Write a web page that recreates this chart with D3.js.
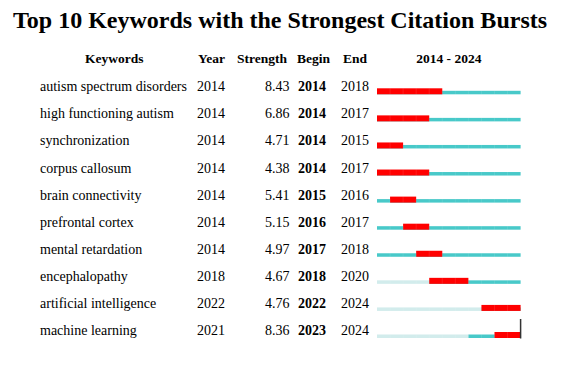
<!DOCTYPE html>
<html><head><meta charset="utf-8">
<script src="https://cdn.jsdelivr.net/npm/d3@7"></script>
<style>body{margin:0;background:#fff}svg{display:block}text{font-family:"Liberation Serif","Times New Roman",serif;fill:#000}</style>
</head><body>
<script>
const keywords = ["autism spectrum disorders","high functioning autism","synchronization","corpus callosum","brain connectivity","prefrontal cortex","mental retardation","encephalopathy","artificial intelligence","machine learning"];
const years = [2014,2014,2014,2014,2014,2014,2014,2018,2022,2021];
const strengths = [8.43,6.86,4.71,4.38,5.41,5.15,4.97,4.67,4.76,8.36];
const begins = [2014,2014,2014,2014,2015,2016,2017,2018,2022,2023];
const ends = [2018,2017,2015,2017,2016,2017,2018,2020,2024,2024];
const headers = ["Keywords","Year","Strength","Begin","End"];
const rangeStart = 2014, rangeEnd = 2024;
const title = "Top 10 Keywords with the Strongest Citation Bursts";

const W=580,H=366;
const svg=d3.select("body").append("svg").attr("width",W).attr("height",H);

svg.append("text").attr("x",13).attr("y",27.5).attr("font-size",24).attr("font-weight","bold").text(title);

const hy=63;
const hx=[85,198,237,297,343];
svg.selectAll("text.h").data(headers).join("text").attr("class","h")
  .attr("x",(d,i)=>hx[i]).attr("y",hy).attr("font-size",13.5).attr("font-weight","bold").text(d=>d);
svg.append("text").attr("x",448.8).attr("y",hy).attr("text-anchor","middle").attr("font-size",13.5).attr("font-weight","bold").text(rangeStart+" - "+rangeEnd);

const yearList=d3.range(rangeStart,rangeEnd+1);
const x=d3.scaleLinear().domain([rangeStart,rangeEnd+1]).range([377,520.6]);
const y=d3.scalePoint().domain(d3.range(keywords.length)).range([91.3,335]);

const rows=svg.selectAll("g.row").data(keywords.map((k,i)=>({k,i,year:years[i],s:strengths[i],b:begins[i],e:ends[i]}))).join("g").attr("class","row");
rows.append("text").attr("x",40).attr("y",d=>y(d.i)).attr("font-size",14).text(d=>d.k);
rows.append("text").attr("x",197).attr("y",d=>y(d.i)).attr("font-size",14).text(d=>d.year);
rows.append("text").attr("x",289.5).attr("y",d=>y(d.i)).attr("text-anchor","end").attr("font-size",14).text(d=>d.s.toFixed(2));
rows.append("text").attr("x",298).attr("y",d=>y(d.i)).attr("font-size",14).attr("font-weight","bold").text(d=>d.b);
rows.append("text").attr("x",341).attr("y",d=>y(d.i)).attr("font-size",14).text(d=>d.e);

rows.each(function(d){
  const g=d3.select(this);
  const base=y(d.i)+3;
  const segs=[];
  if(d.year>rangeStart) segs.push({a:rangeStart,b:d.year-1,c:"#d2ecec",h:3.5});
  segs.push({a:d.year,b:rangeEnd,c:"#48c9c9",h:3.5});
  segs.push({a:d.b,b:d.e,c:"#ff0000",h:6});
  segs.forEach(s=>{
    g.append("rect").attr("x",x(s.a)).attr("y",base-s.h).attr("width",x(s.b+1)-x(s.a)).attr("height",s.h).attr("fill",s.c);
  });
  yearList.slice(1).forEach(yr=>{
    const red=yr>d.b&&yr<=d.e;
    const h=red?6:3.5;
    g.append("line").attr("x1",x(yr)).attr("x2",x(yr)).attr("y1",base-h).attr("y2",base)
      .attr("stroke","#fff").attr("stroke-opacity",0.1).attr("stroke-width",1);
  });
});
const li=keywords.length-1;
svg.append("line").attr("x1",x(rangeEnd+1)).attr("x2",x(rangeEnd+1))
  .attr("y1",y(li)-16).attr("y2",y(li)+3.5).attr("stroke","#333").attr("stroke-width",1.5);
</script>
</body></html>
